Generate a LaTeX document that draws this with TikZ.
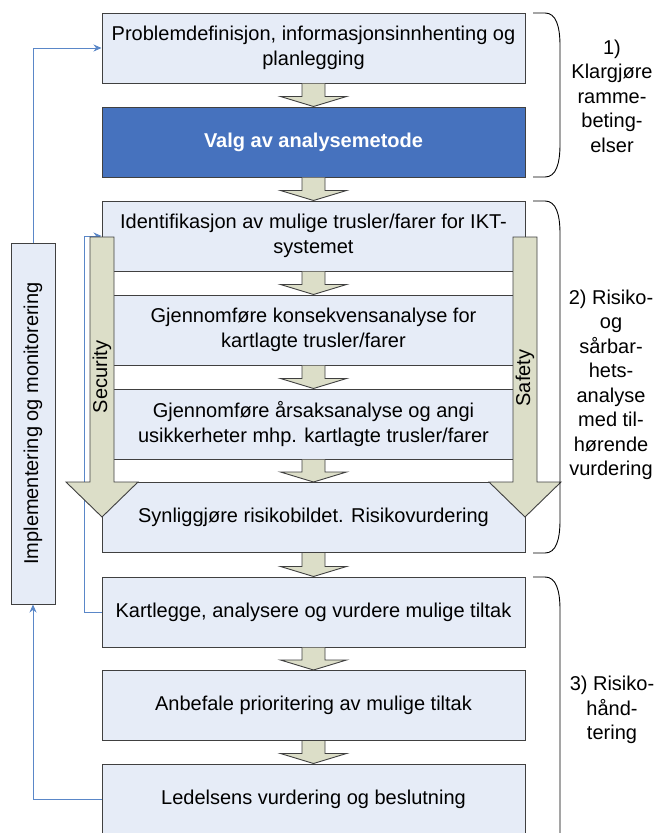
\documentclass[tikz,border=0pt]{standalone}
\usepackage{fontspec}
\setmainfont{Liberation Sans}
\usetikzlibrary{calc,arrows.meta,backgrounds}
\definecolor{boxfill}{HTML}{E6ECF7}
\definecolor{boxline}{HTML}{404040}
\definecolor{darkblue}{HTML}{4672BE}
\definecolor{arrfill}{HTML}{DCDEC8}
\definecolor{conn}{HTML}{5A87C8}
\newcommand\smallarr[2]{%
  \fill[arrfill] ($(#1.south)+(-11.5,0)$) -- ($(#2.north)+(-11.5,-10)$) -- ($(#2.north)+(-33,-10)$) -- (#2.north) -- ($(#2.north)+(33,-10)$) -- ($(#2.north)+(11.5,-10)$) -- ($(#1.south)+(11.5,0)$) -- cycle;
  \draw[arrline] ($(#1.south)+(-11.5,0)$) -- ($(#2.north)+(-11.5,-10)$) -- ($(#2.north)+(-33,-10)$) -- (#2.north) -- ($(#2.north)+(33,-10)$) -- ($(#2.north)+(11.5,-10)$) -- ($(#1.south)+(11.5,0)$);}
\begin{document}
\begin{tikzpicture}[x=1pt,y=-1pt,
  txt/.style={font=\fontsize{20}{24.5}\selectfont},
  stepbox/.style={txt,draw=boxline,line width=1pt,fill=boxfill,minimum width=423pt,minimum height=70pt,inner sep=0pt,align=center},
  arrline/.style={draw=boxline,line width=0.9pt,line join=miter},
  blockarr/.style={arrline,fill=arrfill},
  conn/.style={draw=conn,line width=0.9pt,-{Stealth[length=8pt,width=7pt]}},
  brace/.style={draw=black,line width=0.9pt}]
\clip (0,0) rectangle (658,833);
\fill[white] (0,0) rectangle (658,833);
% boxes
\node[stepbox] (b1) at (313.5,48) {Problemdefinisjon, informasjonsinnhenting og\\planlegging};
\node[stepbox,fill=darkblue,text=white,font=\fontsize{20}{24.5}\selectfont\bfseries] (b2) at (313.5,142) {Valg av analysemetode};
\node[stepbox] (b3) at (313.5,236) {Identifikasjon av mulige trusler/farer for IKT-\\systemet};
\node[stepbox] (b4) at (313.5,330) {Gjennomføre konsekvensanalyse for\\kartlagte trusler/farer};
\node[stepbox] (b5) at (313.5,424) {Gjennomføre årsaksanalyse og angi\\usikkerheter mhp. kartlagte trusler/farer};
\node[stepbox] (b6) at (313.5,517.5) {Synliggjøre risikobildet. Risikovurdering};
\node[stepbox] (b7) at (313.5,612) {Kartlegge, analysere og vurdere mulige tiltak};
\node[stepbox] (b8) at (313.5,705.5) {Anbefale prioritering av mulige tiltak};
\node[stepbox] (b9) at (313.5,799) {Ledelsens vurdering og beslutning};
\node[stepbox,minimum width=44pt,minimum height=361pt] (impl) at (33,423.5) {\rotatebox{90}{Implementering og monitorering}};
% small arrows
\smallarr{b1}{b2}
\smallarr{b2}{b3}
\smallarr{b3}{b4}
\smallarr{b4}{b5}
\smallarr{b5}{b6}
\smallarr{b6}{b7}
\smallarr{b7}{b8}
\smallarr{b8}{b9}
% connectors
\draw[conn] (impl.north) |- (b1.west);
\draw[conn] (b9.west) -| (impl.south);
\draw[conn] (b7.west) -- ++(-17,0) |- (b3.west);
% big arrows
\draw[blockarr] (90,237) -- (90,482) -- (66,482) -- (102,517) -- (138,482) -- (114,482) -- (114,237) -- cycle;
\draw[blockarr] (513,237) -- (513,482) -- (489,482) -- (525,517) -- (561,482) -- (537,482) -- (537,237) -- cycle;
\node[txt,rotate=90] (sec) at (102,377) {Security};
\node[txt,rotate=90] (saf) at (525,378) {Safety};
% braces
\draw[brace] (533,13) -- (545,13) .. controls (556,13) and (560,26) .. (560,46) -- (560,144) .. controls (560,164) and (556,177) .. (545,177) -- (533,177);
\draw[brace] (533,201) -- (545,201) .. controls (556,201) and (560,214) .. (560,234) -- (560,520) .. controls (560,540) and (556,553) .. (545,553) -- (533,553);
\draw[brace] (533,577) -- (545,577) .. controls (556,577) and (560,590) .. (560,610) -- (560,830) .. controls (560,850) and (556,863) .. (545,863) -- (533,863);
\node[txt,align=center] (l1) at (612,96) {1)\\Klargjøre\\ramme-\\beting-\\elser};
\node[txt,align=center] (l2) at (611,385) {2) Risiko-\\og\\sårbar-\\hets-\\analyse\\med til-\\hørende\\vurdering};
\node[txt,align=center] (l3) at (612,710) {3) Risiko-\\hånd-\\tering};
\end{tikzpicture}
\end{document}
